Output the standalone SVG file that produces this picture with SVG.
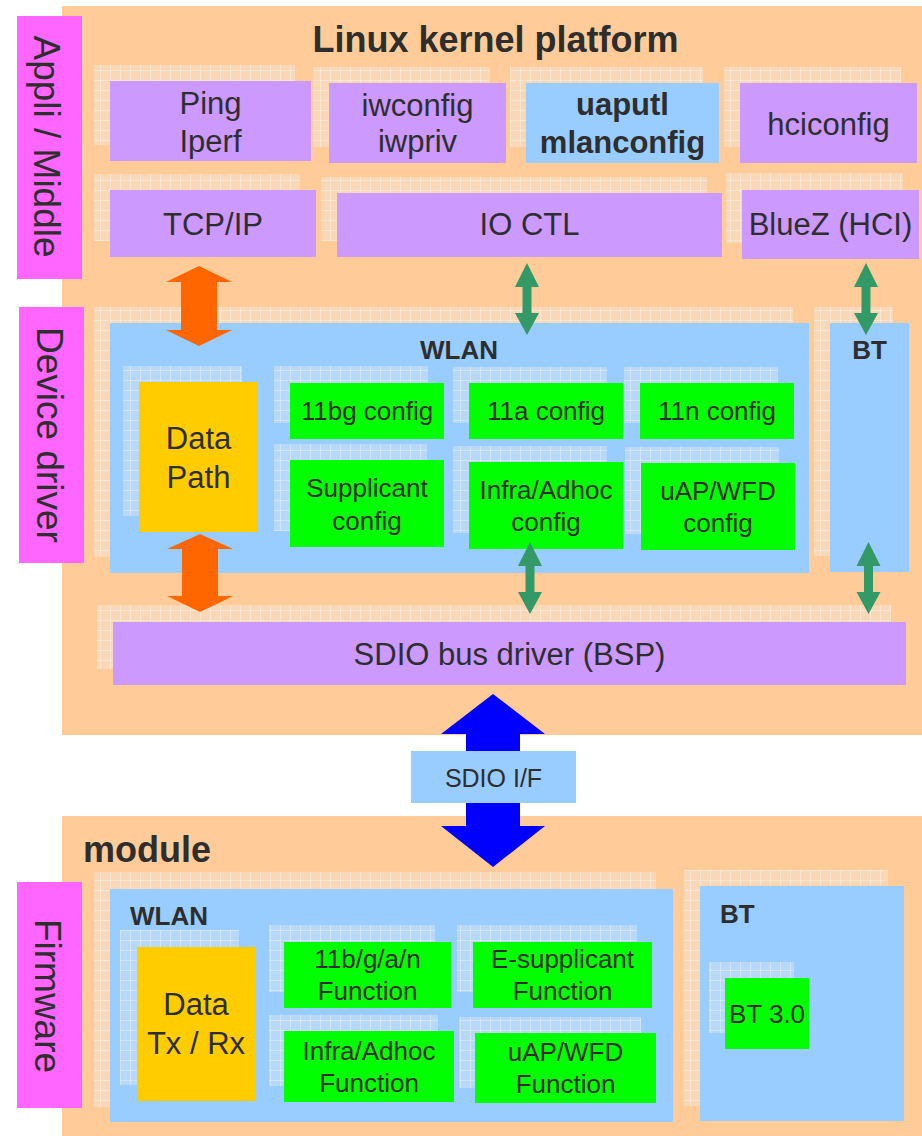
<svg xmlns="http://www.w3.org/2000/svg" width="922" height="1136" viewBox="0 0 922 1136">
<defs>
<pattern id="grid" width="10" height="10" patternUnits="userSpaceOnUse">
<rect width="10" height="10" fill="#EEEEEE" fill-opacity="0.35"/>
<path d="M0 0.5H10M0.5 0V10" stroke="#ffffff" stroke-opacity="0.35" stroke-width="1" fill="none"/>
</pattern>
<style>
text{font-family:"Liberation Sans",Arial,sans-serif;fill:#2E2E2E}
.panel{fill:#FFCC99}
.side{fill:#FF66FF}
.purple{fill:#CC99FF}
.blue{fill:#99CCFF}
.green{fill:#00FF00}
.yellow{fill:#FFCC00}
.ghost{fill:url(#grid)}
.t31{font-size:31px;text-anchor:middle}
.t26{font-size:26px;text-anchor:middle}
.b26{font-size:26px;font-weight:bold}
.side-t{font-size:37px;text-anchor:middle}
.title{font-size:36px;font-weight:bold}
.oarrow{fill:#FF6600}
.garrow{fill:#339966}
.barrow{fill:#0000FF}
</style>
</defs>

<g id="linux-panel">
<rect class="panel" x="62" y="6" width="860" height="729"/>
<text class="title" x="495.5" y="52" text-anchor="middle">Linux kernel platform</text>
</g>
<g id="module-panel">
<rect class="panel" x="62" y="816" width="860" height="320"/>
<text class="title" x="83" y="862">module</text>
</g>

<g id="label-appli">
<rect class="side" x="17" y="16" width="65" height="263"/>
<text class="side-t" transform="translate(34,146.5) rotate(90)">Appli / Middle</text>
</g>
<g id="label-device">
<rect class="side" x="19" y="307" width="65" height="256"/>
<text class="side-t" transform="translate(37,435) rotate(90)">Device driver</text>
</g>
<g id="label-firmware">
<rect class="side" x="17" y="882" width="65" height="226"/>
<text class="side-t" transform="translate(35,996) rotate(90)">Firmware</text>
</g>

<g id="ping">
<rect class="ghost" x="94" y="65" width="201" height="80"/>
<rect class="purple" x="110" y="81" width="201" height="80"/>
<text class="t31" x="210.5" y="114">Ping</text>
<text class="t31" x="210.5" y="152">Iperf</text>
</g>
<g id="iwconfig">
<rect class="ghost" x="313" y="67" width="177" height="80"/>
<rect class="purple" x="329" y="83" width="177" height="80"/>
<text class="t31" x="417.5" y="116">iwconfig</text>
<text class="t31" x="417.5" y="152">iwpriv</text>
</g>
<g id="uaputl">
<rect class="ghost" x="510" y="67" width="193" height="80"/>
<rect class="blue" x="526" y="83" width="193" height="80"/>
<text class="t31" x="622.5" y="115" font-weight="bold">uaputl</text>
<text class="t31" x="622.5" y="153" font-weight="bold">mlanconfig</text>
</g>
<g id="hciconfig">
<rect class="ghost" x="724" y="67" width="177" height="80"/>
<rect class="purple" x="740" y="83" width="177" height="80"/>
<text class="t31" x="828.5" y="135">hciconfig</text>
</g>
<g id="tcpip">
<rect class="ghost" x="94" y="174" width="206" height="67"/>
<rect class="purple" x="110" y="190" width="206" height="67"/>
<text class="t31" x="213" y="235">TCP/IP</text>
</g>
<g id="ioctl">
<rect class="ghost" x="321" y="177" width="386" height="64"/>
<rect class="purple" x="337" y="193" width="385" height="64"/>
<text class="t31" x="529.5" y="235">IO CTL</text>
</g>
<g id="bluez">
<rect class="ghost" x="726" y="173" width="177" height="70"/>
<rect class="purple" x="742" y="190" width="177" height="69"/>
<text class="t31" x="830.5" y="235">BlueZ (HCI)</text>
</g>

<g id="dd-wlan">
<rect class="ghost" x="94" y="307" width="699" height="250"/>
<rect class="blue" x="110" y="323" width="699" height="250"/>
<text class="b26" x="459" y="359" text-anchor="middle">WLAN</text>
</g>
<g id="dd-bt">
<rect class="ghost" x="814" y="307" width="79" height="249"/>
<rect class="blue" x="830" y="323" width="79" height="249"/>
<text class="b26" x="869.5" y="359" text-anchor="middle">BT</text>
</g>
<g id="data-path">
<rect class="ghost" x="123" y="366" width="119" height="150"/>
<rect class="yellow" x="139" y="382" width="119" height="150"/>
<text class="t31" x="198.5" y="449">Data</text>
<text class="t31" x="198.5" y="488">Path</text>
</g>
<g id="cfg-11bg">
<rect class="ghost" x="274" y="366" width="154" height="57"/>
<rect class="green" x="290" y="383" width="154" height="56"/>
<text class="t26" x="367" y="420">11bg config</text>
</g>
<g id="cfg-11a">
<rect class="ghost" x="453" y="367" width="154" height="56"/>
<rect class="green" x="469" y="383" width="154" height="56"/>
<text class="t26" x="546" y="420">11a config</text>
</g>
<g id="cfg-11n">
<rect class="ghost" x="624" y="367" width="154" height="56"/>
<rect class="green" x="640" y="383" width="154" height="56"/>
<text class="t26" x="717" y="420">11n config</text>
</g>
<g id="cfg-supplicant">
<rect class="ghost" x="274" y="444" width="153" height="87"/>
<rect class="green" x="290" y="460" width="154" height="87"/>
<text class="t26" x="367" y="497">Supplicant</text>
<text class="t26" x="367" y="530">config</text>
</g>
<g id="cfg-infra">
<rect class="ghost" x="453" y="446" width="154" height="87"/>
<rect class="green" x="469" y="462" width="154" height="87"/>
<text class="t26" x="546" y="499">Infra/Adhoc</text>
<text class="t26" x="546" y="531">config</text>
</g>
<g id="cfg-uap">
<rect class="ghost" x="625" y="447" width="154" height="87"/>
<rect class="green" x="641" y="463" width="154" height="87"/>
<text class="t26" x="718" y="500">uAP/WFD</text>
<text class="t26" x="718" y="532">config</text>
</g>
<g id="sdio-bus">
<rect class="ghost" x="97" y="605" width="794" height="64"/>
<rect class="purple" x="113" y="622" width="793" height="63"/>
<text class="t31" x="509.5" y="665">SDIO bus driver (BSP)</text>
</g>

<g id="fw-wlan">
<rect class="ghost" x="94" y="872" width="562" height="235"/>
<rect class="blue" x="110" y="889" width="563" height="233"/>
<text class="b26" x="130" y="925">WLAN</text>
</g>
<g id="fw-bt">
<rect class="ghost" x="684" y="870" width="204" height="236"/>
<rect class="blue" x="700" y="886" width="204" height="235"/>
<text class="b26" x="720" y="923">BT</text>
</g>
<g id="data-txrx">
<rect class="ghost" x="120" y="930" width="119" height="155"/>
<rect class="yellow" x="137" y="947" width="118" height="154"/>
<text class="t31" x="196" y="1015">Data</text>
<text class="t31" x="196" y="1054">Tx / Rx</text>
</g>
<g id="fn-11bgan">
<rect class="ghost" x="269" y="925" width="166" height="67"/>
<rect class="green" x="284" y="942" width="167" height="66"/>
<text class="t26" x="367.5" y="968">11b/g/a/n</text>
<text class="t26" x="367.5" y="1000">Function</text>
</g>
<g id="fn-esupp">
<rect class="ghost" x="457" y="925" width="180" height="67"/>
<rect class="green" x="473" y="942" width="179" height="66"/>
<text class="t26" x="562.5" y="968">E-supplicant</text>
<text class="t26" x="562.5" y="1000">Function</text>
</g>
<g id="fn-infra">
<rect class="ghost" x="269" y="1015" width="169" height="71"/>
<rect class="green" x="284" y="1031" width="170" height="71"/>
<text class="t26" x="369" y="1060">Infra/Adhoc</text>
<text class="t26" x="369" y="1092">Function</text>
</g>
<g id="fn-uap">
<rect class="ghost" x="459" y="1017" width="182" height="71"/>
<rect class="green" x="475" y="1033" width="181" height="70"/>
<text class="t26" x="565.5" y="1061">uAP/WFD</text>
<text class="t26" x="565.5" y="1093">Function</text>
</g>
<g id="bt30">
<rect class="ghost" x="709" y="962" width="85" height="71"/>
<rect class="green" x="725" y="978" width="84" height="71"/>
<text class="t26" x="767" y="1023">BT 3.0</text>
</g>

<g id="connectors">
<polygon class="oarrow" points="199,266 232,282 217,282 217,330 232,330 199,346 166,330 181,330 181,282 166,282"/>
<polygon class="oarrow" points="200,534 233,549 218,549 218,596 233,596 200,612 167,596 182,596 182,549 167,549"/>
<polygon class="garrow" points="527,263 539,287 531.5,287 531.5,313 539,313 527,335 515,313 522.5,313 522.5,287 515,287"/>
<polygon class="garrow" points="866,263 878,287 870.5,287 870.5,313 878,313 866,335 854,313 861.5,313 861.5,287 854,287"/>
<polygon class="garrow" points="530,542 542,566 534.5,566 534.5,592 542,592 530,614 518,592 525.5,592 525.5,566 518,566"/>
<polygon class="garrow" points="868.5,542 880.5,566 873,566 873,592 880.5,592 868.5,614 856.5,592 864,592 864,566 856.5,566"/>
<polygon class="barrow" points="493,694 545,734 520,734 520,826 545,826 493,867 441,826 466,826 466,734 441,734"/>
</g>

<g id="sdio-if">
<rect class="blue" x="411" y="751" width="165" height="52"/>
<text x="493.5" y="787" font-size="25" text-anchor="middle">SDIO I/F</text>
</g>
</svg>
